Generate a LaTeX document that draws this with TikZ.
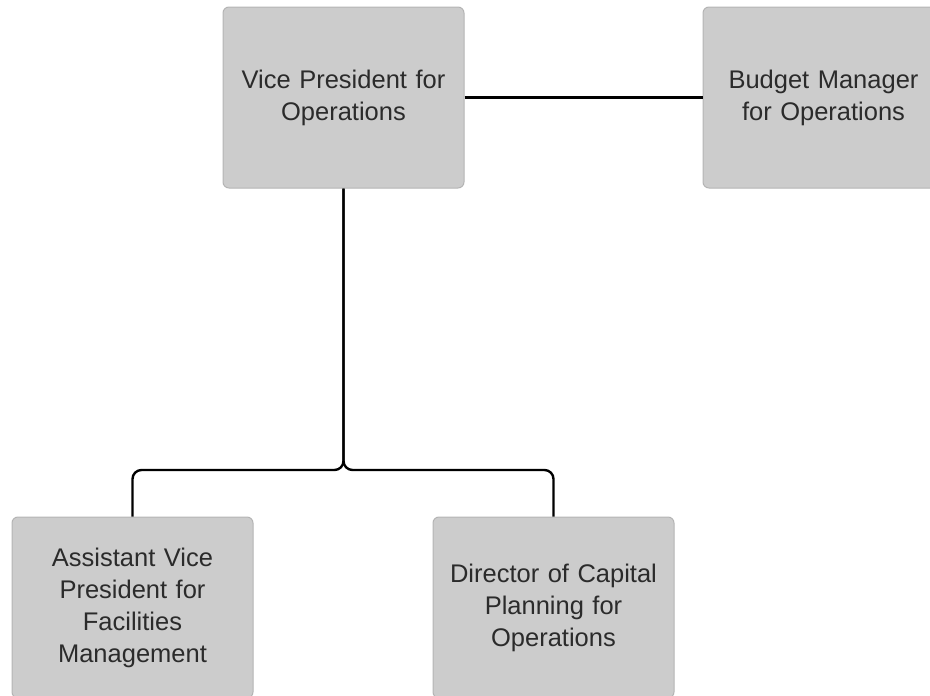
\documentclass[tikz,border=0pt]{standalone}
\usepackage{fontspec}
\setmainfont{Liberation Sans}
\usepackage{tikz}
\usetikzlibrary{calc}

\definecolor{boxfill}{HTML}{CCCCCC}
\definecolor{boxline}{HTML}{B4B4B4}
\definecolor{boxtext}{HTML}{2B2B2B}

\tikzset{
  post/.style = {draw = boxline, fill = boxfill, rounded corners = 6pt, line width = 1pt,
    minimum width = 241pt, minimum height = 181pt, text width = 228pt, align = center,
    text = boxtext, font = \fontsize{25.5}{32}\selectfont, inner sep = 0pt},
  link/.style = {line width = 2.4pt, rounded corners = 9pt}
}

\begin{document}
\begin{tikzpicture}[x = 1pt, y = -1pt]
  \useasboundingbox (0,0) rectangle (930,696);
  \node[post] (vp) at (343.5,97.5) {Vice President for\\Operations};
  \node[post] (bm) at (823.5,97.5) {Budget Manager\\for Operations};
  \node[post] (avp) at (132.5,607.5) {Assistant Vice\\President for\\Facilities\\Management};
  \node[post] (dcp) at (553.5,607.5) {Director of Capital\\Planning for\\Operations};
  \coordinate (j) at (343.5,470);
  \draw[link] (vp) -- (bm);
  \draw[link] (vp) -- (j) -| (avp);
  \draw[link] (vp) -- (j) -| (dcp);
\end{tikzpicture}
\end{document}
